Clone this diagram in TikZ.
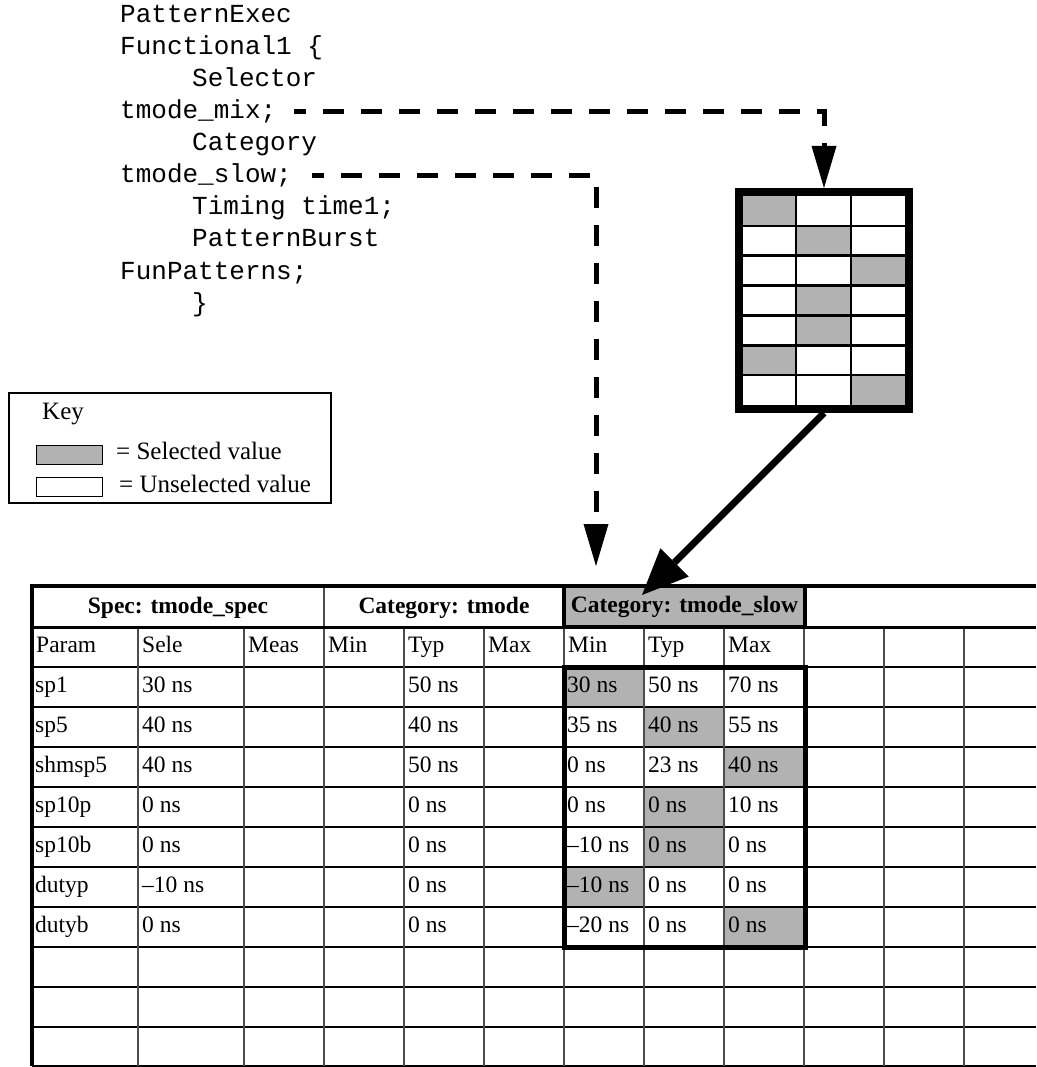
\documentclass[tikz,border=0pt]{standalone}
\usepackage{fontspec}
\setmainfont{Liberation Serif}
\setmonofont{Liberation Mono}
\usetikzlibrary{arrows.meta, positioning}

\tikzset{
  codeline/.style={anchor=base west, inner sep=0pt, font=\ttfamily\fontsize{26}{32}\selectfont},
  celltext/.style={anchor=base west, inner sep=0pt, font=\fontsize{23.5}{28}\selectfont},
  hdrtext/.style={anchor=base, inner sep=0pt, font=\bfseries\fontsize{23.5}{28}\selectfont},
  keytext/.style={anchor=base west, inner sep=0pt, font=\fontsize{25}{30}\selectfont},
  selfill/.style={fill=black!30},
  thinrule/.style={line width=1.3pt},
  colrule/.style={line width=1.3pt, draw=black!70},
  heavyrule/.style={line width=4pt},
  swatch/.style={draw, line width=1.3pt, minimum width=66pt, minimum height=19pt, inner sep=0pt},
  dasharr/.style={line width=5pt, dash pattern=on 21pt off 17pt, dash phase=9pt,
                  -{Triangle[length=42pt, width=25pt, line width=0pt]}},
  solidarr/.style={line width=7pt, -{Triangle[length=46pt, width=40pt, line width=0pt]}},
}

\begin{document}
\begin{tikzpicture}[x=1pt, y=-1pt]
  \useasboundingbox (0,0) rectangle (1036,1067);

  % source listing
  \foreach \txt/\xx [count=\i] in {PatternExec/120, Functional1 \{/120, Selector/192,
      tmode\_mix;/120, Category/192, tmode\_slow;/120, Timing time1;/192,
      PatternBurst/192, FunPatterns;/120, \}/192}
    \node[codeline] (ln\i) at (\xx, {23+32*(\i-1)}) {\txt};

  % pattern grid
  \foreach \xa/\xb [count=\r] in {743/796, 796/851, 851/905, 796/851, 796/851, 743/796, 851/905}
    \fill[selfill] (\xa, {196+29.857*(\r-1)}) rectangle (\xb, {196+29.857*\r});
  \foreach \k in {1,...,6}
    \draw[line width=2.5pt] (743, {196+29.857*\k}) -- (905, {196+29.857*\k});
  \foreach \xx in {796, 851}
    \draw[line width=2.5pt] (\xx,196) -- (\xx,405);
  \node[draw, line width=8pt, minimum width=170pt, minimum height=217pt, inner sep=0pt] (grid) at (824,300.5) {};

  % key
  \draw[thinrule] (9,393) rectangle (331,503);
  \node[keytext] (keyttl) at (42,419) {Key};
  \node[swatch, selfill, anchor=north west] (selsw) at (36,445) {};
  \node[swatch, fill=white, anchor=north west] (unselsw) at (36,477) {};
  \node[keytext] (seltxt) at (116,459) {= Selected value};
  \node[keytext] (unseltxt) at (119,492) {= Unselected value};

  % table shading
  \foreach \c [count=\r] in {0,1,2,1,1,0,2}
    \fill[selfill] ({564+80*\c}, {627+40*\r}) rectangle ++(80,40);

  % table rules
  \foreach \yy in {667,707,...,1027}
    \draw[thinrule] (32,\yy) -- (1036,\yy);
  \draw[thinrule] (32,1066) -- (1036,1066);
  \foreach \xx in {138,244,324,404,484,564,644,724,804,884,964}
    \draw[colrule] (\xx,627) -- (\xx,1066);
  \draw[colrule] (324,586) -- (324,627);
  \draw[heavyrule] (30,586) -- (1036,586);
  \draw[line width=3pt] (32,627) -- (1036,627);
  \draw[heavyrule] (32,584) -- (32,1066);

  % header
  \node[hdrtext] (spechdr) at (178,613) {Spec: tmode\_spec};
  \node[hdrtext] (cathdr) at (444,613) {Category: tmode};
  \node[draw, line width=4.5pt, selfill, minimum width=241pt, minimum height=41pt, inner sep=0pt,
        font=\bfseries\fontsize{23.5}{28}\selectfont] (slowhdr) at (684.5,606.5) {Category: tmode\_slow};
  \draw[line width=5pt] (564,667) rectangle (805,947);

  % column heads
  \foreach \hd/\xx [count=\i] in {Param/32, Sele/138, Meas/244, Min/324, Typ/404, Max/484, Min/564, Typ/644, Max/724}
    \node[celltext] (head\i) at ({\xx+4}, 652) {\hd};

  % rows
  \foreach \lbl/\sel/\typ/\mn/\tp/\mx [count=\r] in {
      sp1/30 ns/50 ns/30 ns/50 ns/70 ns,
      sp5/40 ns/40 ns/35 ns/40 ns/55 ns,
      shmsp5/40 ns/50 ns/0 ns/23 ns/40 ns,
      sp10p/0 ns/0 ns/0 ns/0 ns/10 ns,
      sp10b/0 ns/0 ns/–10 ns/0 ns/0 ns,
      dutyp/–10 ns/0 ns/–10 ns/0 ns/0 ns,
      dutyb/0 ns/0 ns/–20 ns/0 ns/0 ns}
  {
    \node[celltext] (lbl\r) at (35, {652+40*\r}) {\lbl};
    \node[celltext] (sel\r) at (142, {652+40*\r}) {\sel};
    \node[celltext] (typ\r) at (408, {652+40*\r}) {\typ};
    \node[celltext] (mn\r) at (567, {652+40*\r}) {\mn};
    \node[celltext] (tp\r) at (648, {652+40*\r}) {\tp};
    \node[celltext] (mx\r) at (728, {652+40*\r}) {\mx};
  }

  % connectors
  \coordinate (slowtip) at (596,566);
  \coordinate (hdrtip) at (642,595);
  \draw[dasharr] ([xshift=18pt]ln4.east) -| (grid.north);
  \draw[dasharr] ([xshift=20pt]ln6.east) -| (slowtip);
  \draw[solidarr] (grid.south) -- (hdrtip);
\end{tikzpicture}
\end{document}
